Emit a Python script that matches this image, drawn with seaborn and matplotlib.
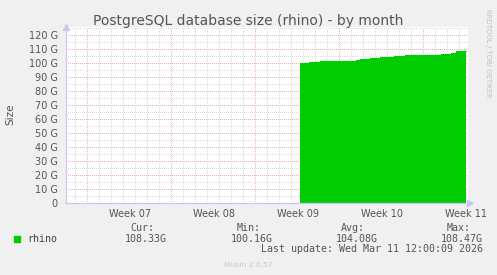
import matplotlib
matplotlib.use("Agg")
import matplotlib.pyplot as plt
import seaborn as sns
import pandas as pd
import numpy as np
from matplotlib.patches import Rectangle

# ---- data (x in days from left edge of the graph window) ----
step_days = [19.5, 20.25, 21.17, 24.17, 24.5, 25.33, 26.17, 27.33, 28.25, 31.25, 32.08, 32.5, 33.33]
size_gb = [100.16, 100.9, 101.4, 102.1, 102.9, 103.6, 104.3, 105.0, 105.8, 106.5, 107.2, 108.47, 108.33]
week_labels = ["Week 07", "Week 08", "Week 09", "Week 10", "Week 11"]
week_label_days = [5.33, 12.33, 19.33, 26.33, 33.33]
week_grid_days = [1.77, 8.77, 15.77, 22.77, 29.77]
y_ticks = [0, 10, 20, 30, 40, 50, 60, 70, 80, 90, 100, 110, 120]
y_tick_labels = ["0", "10 G", "20 G", "30 G", "40 G", "50 G", "60 G", "70 G", "80 G", "90 G", "100 G", "110 G", "120 G"]
legend_name = "rhino"
stat_headers = ["Cur:", "Min:", "Avg:", "Max:"]
stat_values = ["108.33G", "100.16G", "104.08G", "108.47G"]
title = "PostgreSQL database size (rhino) - by month"
last_update = "Last update: Wed Mar 11 12:00:09 2026"

df = pd.DataFrame({"day": step_days, "size": size_gb})

W, H = 497, 275
sns.set_style("white")
plt.rcParams["font.family"] = ["DejaVu Sans"]
fig = plt.figure(figsize=(W / 100, H / 100), dpi=100, facecolor="#F0F0F0")

L, R, T, B = 66, 468, 27, 203
ax = fig.add_axes([L / W, 1 - B / H, (R - L) / W, (B - T) / H])
ax.set_facecolor("white")

XMAX = (R - L) / 12.0
YMAX = (B - T) / 1.4
ax.set_xlim(0, XMAX)
ax.set_ylim(0, YMAX)

GRAY = "#DCDCDC"
RED = "#E8B4B4"
gkw = dict(lw=0.72, ls=(0, (1, 2)), zorder=1, antialiased=False)

# grid
minor_days = np.arange(week_grid_days[0] - 1, XMAX, 1.0)
minor_days = minor_days[minor_days > 0]
for d in minor_days:
    ax.axvline(d, color=GRAY, **gkw)
for yv in np.arange(5, YMAX, 10):
    ax.axhline(yv, color=GRAY, **gkw)
for d in week_grid_days:
    ax.axvline(d, color=RED, **gkw)
for yv in y_ticks[1:]:
    ax.axhline(yv, color=RED, **gkw)

# data: step area
ax.fill_between(df["day"], df["size"], step="post", color="#00CC00", lw=0, zorder=2)
sns.lineplot(data=df, x="day", y="size", drawstyle="steps-post", color="#00CC00",
             lw=0.8, ax=ax, zorder=3, legend=False)

ax.set_xlabel("")
ax.set_ylabel("")
ax.set_xticks(week_label_days)
ax.set_xticklabels(week_labels)
ax.set_yticks(y_ticks)
ax.set_yticklabels(y_tick_labels)
ax.tick_params(axis="x", length=0, pad=4, labelsize=7, labelcolor="#555555")
ax.tick_params(axis="y", length=3, width=0.6, color=RED, pad=3, labelsize=7, labelcolor="#555555")
for s in ["top", "right"]:
    ax.spines[s].set_visible(False)
for s in ["left", "bottom"]:
    ax.spines[s].set_color("#C8C8F0")
    ax.spines[s].set_linewidth(0.9)
    ax.spines[s].set_zorder(5)
ax.set_xlim(0, XMAX)
# axis arrows
ax.plot([0], [1.0], marker="^", ms=4, color="#C8C8F0", transform=ax.transAxes, clip_on=False)
ax.plot([1.005], [0], marker=">", ms=4, color="#C8C8F0", transform=ax.transAxes, clip_on=False)

def fy(px):
    return 1 - px / H

def fx(px):
    return px / W

fig.text(fx(248.5), fy(24.5), title, ha="center", va="baseline", fontsize=10, color="#555555")
fig.text(fx(10.5), fy(114.5), "Size", ha="center", va="center", rotation=90, fontsize=7.5, color="#555555")
fig.text(fx(488), fy(53), "RRDTOOL / TOBI OETIKER", ha="center", va="center", rotation=270,
         fontsize=5, color="#C0C0C0")

mono = "DejaVu Sans Mono"
fig.patches.append(Rectangle((fx(14), fy(242)), 6 / W, 6 / H, transform=fig.transFigure,
                             color="#00CC00", figure=fig))
fig.text(fx(27), fy(242.3), legend_name, ha="left", va="baseline", fontsize=7.2, family=mono, color="#444444")
val_right = [166.7, 272.7, 377.7, 482.7]
for h, v, r in zip(stat_headers, stat_values, val_right):
    fig.text(fx(r - 12.4), fy(230.7), h, ha="right", va="baseline", fontsize=7.2, family=mono, color="#555555")
    fig.text(fx(r), fy(242.3), v, ha="right", va="baseline", fontsize=7.2, family=mono, color="#555555")
fig.text(fx(482.7), fy(252.5), last_update, ha="right", va="baseline", fontsize=7.2, family=mono, color="#555555")
fig.text(fx(248), fy(267), "Munin 2.0.57", ha="center", va="baseline", fontsize=5.3, color="#C8C8C8")

fig.savefig("out.png", dpi=100, facecolor=fig.get_facecolor())
